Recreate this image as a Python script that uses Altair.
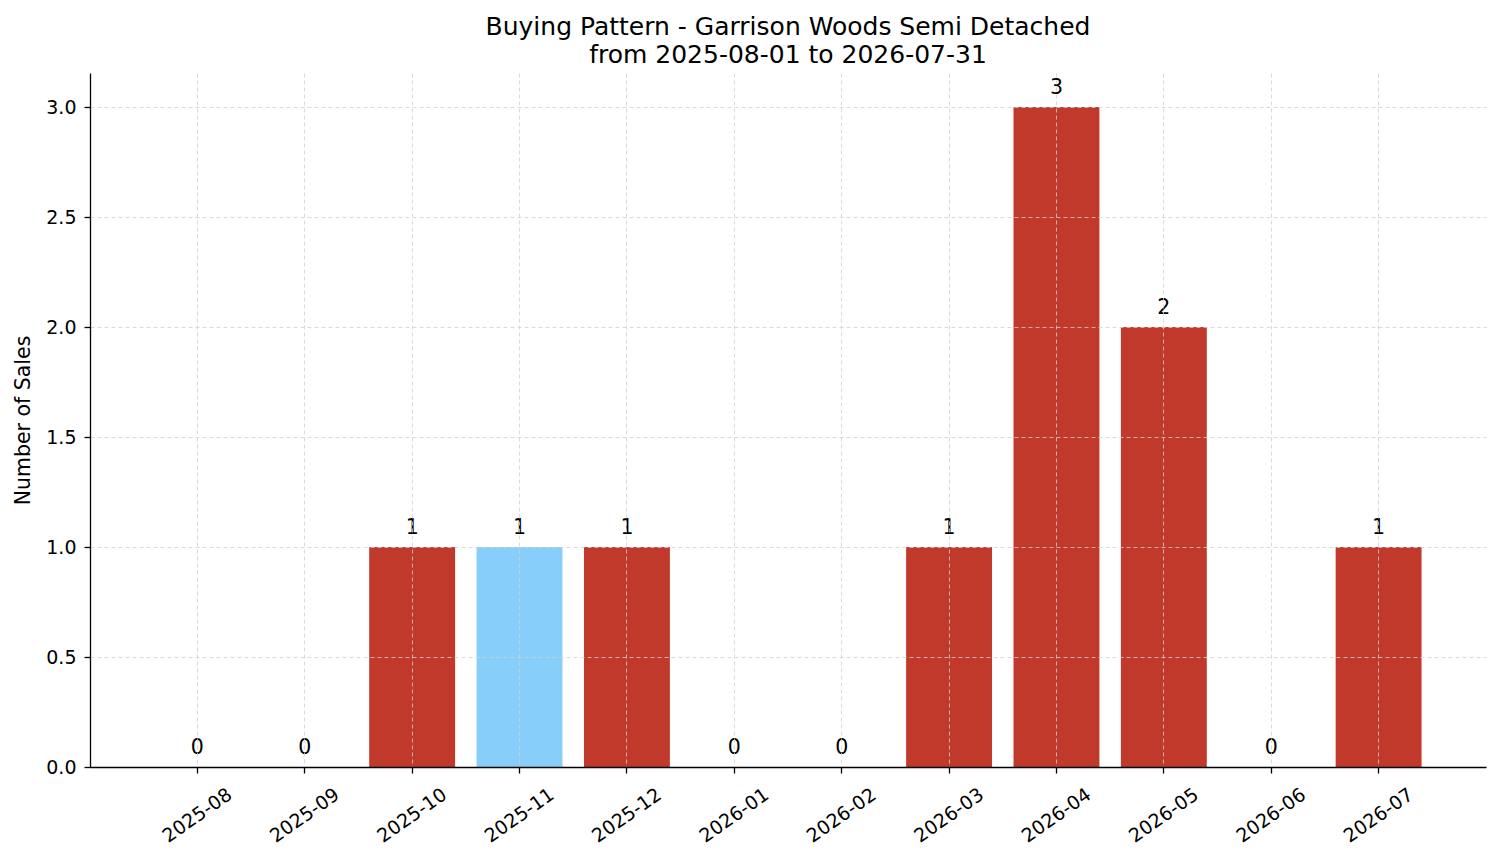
import altair as alt
import pandas as pd

months = ["2025-08", "2025-09", "2025-10", "2025-11", "2025-12", "2026-01",
          "2026-02", "2026-03", "2026-04", "2026-05", "2026-06", "2026-07"]
sales = [0, 0, 1, 1, 1, 0, 0, 1, 3, 2, 0, 1]
highlight = ["no", "no", "no", "yes", "no", "no", "no", "no", "no", "no", "no", "no"]

df = pd.DataFrame({"month": months, "sales": sales, "hl": highlight})

FONT = "DejaVu Sans"

bars = alt.Chart(df).mark_bar().encode(
    x=alt.X("month:N", sort=months,
            scale=alt.Scale(paddingInner=0.2, paddingOuter=0.6),
            axis=alt.Axis(title=None, zindex=1)),
    y=alt.Y("sales:Q", scale=alt.Scale(domain=[0, 3.155], nice=False, zero=True),
            axis=alt.Axis(title="Number of Sales", zindex=1,
                          values=[0, 0.5, 1, 1.5, 2, 2.5, 3], format=".1f")),
    color=alt.Color("hl:N", scale=alt.Scale(domain=["no", "yes"],
                                            range=["#c0392b", "#87cefa"]),
                    legend=None),
)

labels = alt.Chart(df).mark_text(baseline="alphabetic", dy=-13, fontSize=20.5,
                                 font=FONT, color="black").encode(
    x=alt.X("month:N", sort=months),
    y="sales:Q",
    text="sales:Q",
)

chart = (bars + labels).properties(
    width=1396, height=694,
    title=alt.TitleParams(
        text=["Buying Pattern - Garrison Woods Semi Detached",
              "from 2025-08-01 to 2026-07-31"],
        fontSize=25, font=FONT, fontWeight="normal", color="black",
        anchor="middle", lineHeight=28, offset=5),
    autosize=alt.AutoSizeParams(type="none"),
    padding={"left": 82, "top": 65, "right": 7, "bottom": 88},
).configure_view(stroke=None).configure_axis(
    domainWidth=1.3, domainColor="black", tickWidth=1.3, tickColor="black",
    tickSize=6, labelFont=FONT, labelFontSize=19, labelColor="black",
    titleFont=FONT, titleFontSize=20.5, titleFontWeight="normal",
    titleColor="black", grid=True, gridDash=[4, 3], gridColor="#d0d0d0",
    gridWidth=0.8, zindex=1,
).configure_axisX(
    labelAngle=-35, labelAlign="center", labelBaseline="middle",
    labelPadding=42, bandPosition=0.5,
).configure_axisY(
    labelPadding=8, titlePadding=12,
)

chart.save("out.html", embed_options={"renderer": "svg", "actions": False})
